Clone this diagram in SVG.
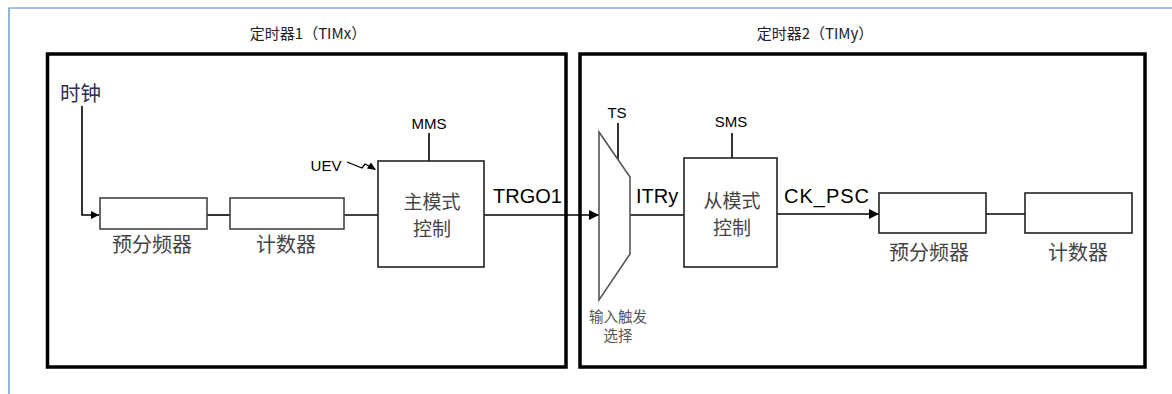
<svg xmlns="http://www.w3.org/2000/svg" width="1172" height="394" viewBox="0 0 1172 394">
<defs>
<marker id="arr" viewBox="0 0 10 10" refX="10" refY="5" markerWidth="10" markerHeight="10" markerUnits="userSpaceOnUse" orient="auto">
<path d="M0,0 L10,5 L0,10 z" fill="#000"/>
</marker>
<marker id="arrs" viewBox="0 0 10 10" refX="10" refY="5" markerWidth="8" markerHeight="8" markerUnits="userSpaceOnUse" orient="auto">
<path d="M0,0 L10,5 L0,10 z" fill="#000"/>
</marker>
</defs>
<style>
.frame{fill:none;stroke:#000;stroke-width:3.5}
.box{fill:#fff;stroke:#222;stroke-width:1.6}
.gbox{fill:#fff;stroke:#444;stroke-width:1.6}
.wire{fill:none;stroke:#000;stroke-width:1.6}
.title{font-family:"Noto Sans CJK SC","Noto Sans",sans-serif;font-size:15px;fill:#222;text-anchor:middle}
.cn{font-family:"Noto Sans CJK SC",sans-serif;font-size:20px;fill:#444;text-anchor:middle}
.cn2{font-family:"Noto Sans CJK SC",sans-serif;font-size:19px;fill:#444;text-anchor:middle}
.cns{font-family:"Noto Sans CJK SC",sans-serif;font-size:14.5px;fill:#555;text-anchor:middle}
.sig{font-family:"Liberation Sans",Arial,sans-serif;font-size:20px;fill:#000}
.ctl{font-family:"Liberation Sans",Arial,sans-serif;font-size:15px;fill:#000;text-anchor:middle}
</style>
<rect width="1172" height="394" fill="#fff"/>
<path d="M9,394 V8 H1172" fill="none" stroke="#4a86c6" stroke-width="1.2"/>

<g id="timer1">
<rect class="frame" x="47.5" y="54" width="518.5" height="313"/>
<text class="title" x="308" y="39">定时器1（TIMx）</text>
</g>
<g id="timer2">
<rect class="frame" x="580" y="54" width="565" height="313"/>
<text class="title" x="815" y="39">定时器2（TIMy）</text>
</g>

<g id="connectors">
<polyline class="wire" points="82,106 82,215 99,215" marker-end="url(#arrs)"/>
<line class="wire" x1="207" y1="215" x2="230" y2="215"/>
<line class="wire" x1="344" y1="215" x2="378" y2="215"/>
<line class="wire" x1="429" y1="133" x2="429" y2="161"/>
<polyline fill="none" stroke="#000" stroke-width="1.3" points="347,162 362,168 365,164 375,169"/>
<path d="M376,170 L367,168.5 L371,162.5 z" fill="#000"/>
<line class="wire" x1="484" y1="215" x2="599" y2="215" marker-end="url(#arr)"/>
<line class="wire" x1="618" y1="123" x2="618" y2="160"/>
<line class="wire" x1="630" y1="215" x2="684" y2="215"/>
<line class="wire" x1="732" y1="133" x2="732" y2="158"/>
<line class="wire" x1="777" y1="214" x2="879" y2="214" marker-end="url(#arr)"/>
<line class="wire" x1="986" y1="214" x2="1025" y2="214"/>
</g>

<g id="clock">
<text x="60" y="101" font-family="Noto Sans CJK SC,sans-serif" font-size="20.5" fill="#2e2e4e">时钟</text>
</g>
<g id="psc1">
<rect class="gbox" x="100" y="198" width="107" height="31"/>
<text class="cn" x="152" y="252">预分频器</text>
</g>
<g id="cnt1">
<rect class="gbox" x="230" y="198" width="114" height="31"/>
<text class="cn" x="286" y="252">计数器</text>
</g>
<g id="master">
<rect class="box" x="378" y="161" width="106" height="106"/>
<text class="cn2" x="432" y="209">主模式</text>
<text class="cn2" x="432" y="236">控制</text>
<text class="ctl" x="429" y="129">MMS</text>
<text class="ctl" x="326" y="171">UEV</text>
</g>
<g id="trgo">
<text class="sig" x="493" y="203">TRGO1</text>
</g>
<g id="mux">
<polygon points="599,132 630,177 630,254 599,300" fill="#fff" stroke="#555" stroke-width="1.6"/>
<text class="ctl" x="617" y="118">TS</text>
<text class="cns" x="618" y="322">输入触发</text>
<text class="cns" x="618" y="341">选择</text>
</g>
<g id="itry">
<text class="sig" x="636" y="203">ITRy</text>
</g>
<g id="slave">
<rect class="box" x="684" y="158" width="93" height="109"/>
<text class="cn2" x="732" y="208">从模式</text>
<text class="cn2" x="732" y="235">控制</text>
<text class="ctl" x="731" y="127">SMS</text>
</g>
<g id="ckpsc">
<text class="sig" x="784" y="203" textLength="85">CK_PSC</text>
</g>
<g id="psc2">
<rect class="box" x="879" y="193" width="107" height="40"/>
<text class="cn" x="929" y="260">预分频器</text>
</g>
<g id="cnt2">
<rect class="box" x="1025" y="193" width="107" height="40"/>
<text class="cn" x="1078" y="260">计数器</text>
</g>
</svg>
